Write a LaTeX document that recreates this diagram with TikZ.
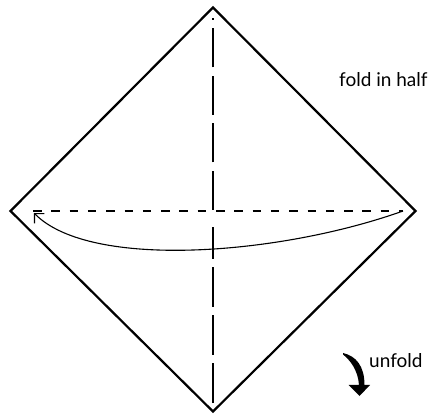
\documentclass[tikz,border=0pt]{standalone}
\usepackage{fontspec}
\setsansfont{Lato}
\usetikzlibrary{arrows.meta}

\begin{document}
\begin{tikzpicture}[x=1pt,y=-1pt,
  paper/.style={draw,line width=2.2pt,line join=miter},
  crease/.style={line width=1.8pt},
  lab/.style={font=\sffamily\fontsize{19}{22}\selectfont,inner sep=0pt,anchor=base west}]
\useasboundingbox (0,0) rectangle (447,419);
% corners of the square sheet
\coordinate (top) at (213,7.5);
\coordinate (left) at (10.5,211);
\coordinate (right) at (415.5,211);
\coordinate (bot) at (213,411.5);
% ends of the creases
\coordinate (hl) at (33,211);
\coordinate (hr) at (403,211);
\coordinate (vt) at (213,18);
\coordinate (vm1) at (213,210);
\coordinate (vm2) at (213,227);
\coordinate (vb) at (213,403);
\coordinate (tipL) at (34,213);
\draw[paper] (top) -- (right) -- (bot) -- (left) -- cycle;
\draw[crease,dash pattern=on 8.5pt off 9.8pt] (hl) -- (hr);
\draw[crease,dash pattern=on 39pt off 8.5pt] (vm1) -- (vt);
\draw[crease,dash pattern=on 40pt off 8pt] (vb) -- (vm2);
% fold arrow
\draw[line width=1.1pt,-{Straight Barb[length=7pt,width=14pt]}] (hr) .. controls (280,255) and (90,270) .. (tipL);
\node[lab] (halflab) at (339,87) {fold in half};
% unfold arrow
\fill (343,353) .. controls (356,356) and (364.5,366) .. (364.5,385)
  -- (370,385) -- (359.5,396) -- (348.5,385) -- (359,385)
  .. controls (358,370) and (350,360) .. (343,354.5) -- cycle;
\node[lab] (unfoldlab) at (369,367) {unfold};
\end{tikzpicture}
\end{document}
